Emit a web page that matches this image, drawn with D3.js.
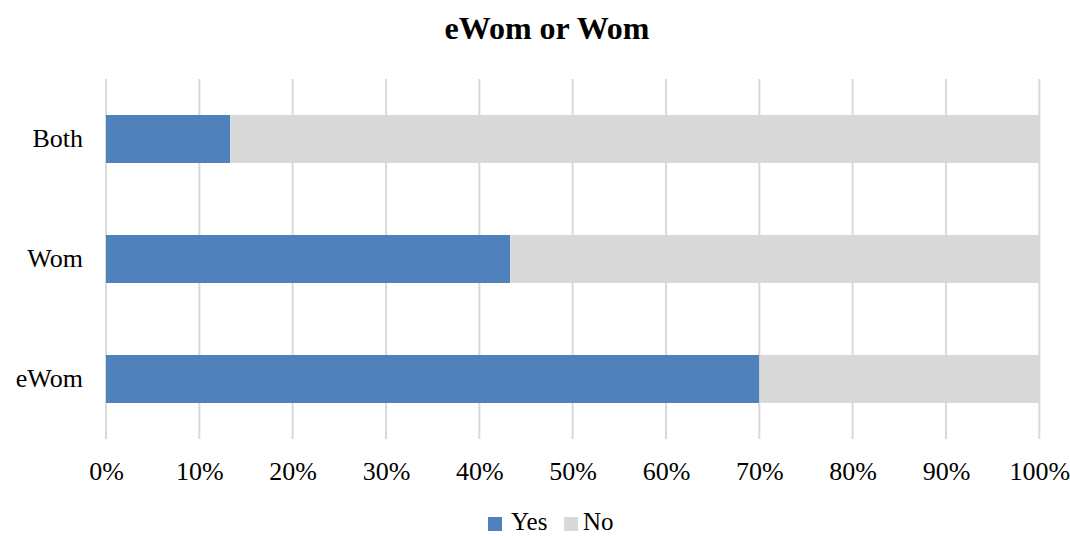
<!DOCTYPE html>
<html>
<head>
<meta charset="utf-8">
<script src="https://cdn.jsdelivr.net/npm/d3@7"></script>
<style>
  html, body { margin: 0; padding: 0; background: #fff; }
  svg { display: block; font-family: "Liberation Serif", "Times New Roman", serif; }
</style>
</head>
<body>
<svg id="chart" width="1070" height="536"></svg>
<script>
// Categories listed bottom to top as shown on the vertical axis
const categories = ["eWom", "Wom", "Both"];
const seriesNames = ["Yes", "No"];
const yesValues = [70.0, 43.3, 13.3];
const noValues = [30.0, 56.7, 86.7];
const tickValues = [0, 10, 20, 30, 40, 50, 60, 70, 80, 90, 100];
const colors = { Yes: "#4F81BD", No: "#D9D9D9" };

const svg = d3.select("#chart");
const plot = { left: 106, right: 1039.3, top: 79, bottom: 439 };

const x = d3.scaleLinear().domain([0, 100]).range([plot.left, plot.right]);
const y = d3.scaleBand()
  .domain(categories.slice().reverse())
  .range([plot.top, plot.bottom])
  .paddingInner(0.6)
  .paddingOuter(0.3);

// Title
svg.append("text")
  .attr("x", 547).attr("y", 39)
  .attr("text-anchor", "middle")
  .attr("font-size", 32).attr("font-weight", "bold")
  .attr("fill", "#000")
  .text("eWom or Wom");

// Vertical gridlines
svg.append("g")
  .selectAll("line")
  .data(tickValues)
  .join("line")
  .attr("x1", d => x(d)).attr("x2", d => x(d))
  .attr("y1", plot.top).attr("y2", plot.bottom)
  .attr("stroke", "#D9D9D9").attr("stroke-width", 2);

// Stacked bars
const rows = categories.map((c, i) => ({ cat: c, Yes: yesValues[i], No: noValues[i] }));
const stacked = d3.stack().keys(seriesNames)(rows);

svg.append("g")
  .selectAll("g")
  .data(stacked)
  .join("g")
  .attr("fill", s => colors[s.key])
  .selectAll("rect")
  .data(s => s)
  .join("rect")
  .attr("x", d => x(d[0]))
  .attr("width", d => x(d[1]) - x(d[0]))
  .attr("y", d => y(d.data.cat))
  .attr("height", y.bandwidth());

// X axis tick labels
const xAxis = d3.axisBottom(x)
  .tickValues(tickValues)
  .tickFormat(d => d + "%")
  .tickSize(0)
  .tickPadding(0);
const gx = svg.append("g").attr("transform", `translate(0,${plot.bottom})`).call(xAxis);
gx.select(".domain").remove();
gx.selectAll("text")
  .attr("font-family", "'Liberation Serif', 'Times New Roman', serif")
  .attr("font-size", 26).attr("fill", "#000")
  .attr("dy", null).attr("y", 41);

// Y axis category labels
const yAxis = d3.axisLeft(y).tickSize(0).tickPadding(0);
const gy = svg.append("g").attr("transform", `translate(83,0)`).call(yAxis);
gy.select(".domain").remove();
gy.selectAll("text")
  .attr("font-family", "'Liberation Serif', 'Times New Roman', serif")
  .attr("font-size", 26).attr("fill", "#000")
  .attr("dy", "0.32em");

// Legend
const legend = svg.append("g");
const legendItems = [
  { name: "Yes", sx: 488, tx: 511 },
  { name: "No", sx: 564, tx: 583 }
];
legendItems.forEach(item => {
  legend.append("rect")
    .attr("x", item.sx).attr("y", 517)
    .attr("width", 14).attr("height", 14)
    .attr("fill", colors[item.name]);
  legend.append("text")
    .attr("x", item.tx).attr("y", 530)
    .attr("font-size", 25).attr("fill", "#000")
    .text(item.name);
});
</script>
</body>
</html>
